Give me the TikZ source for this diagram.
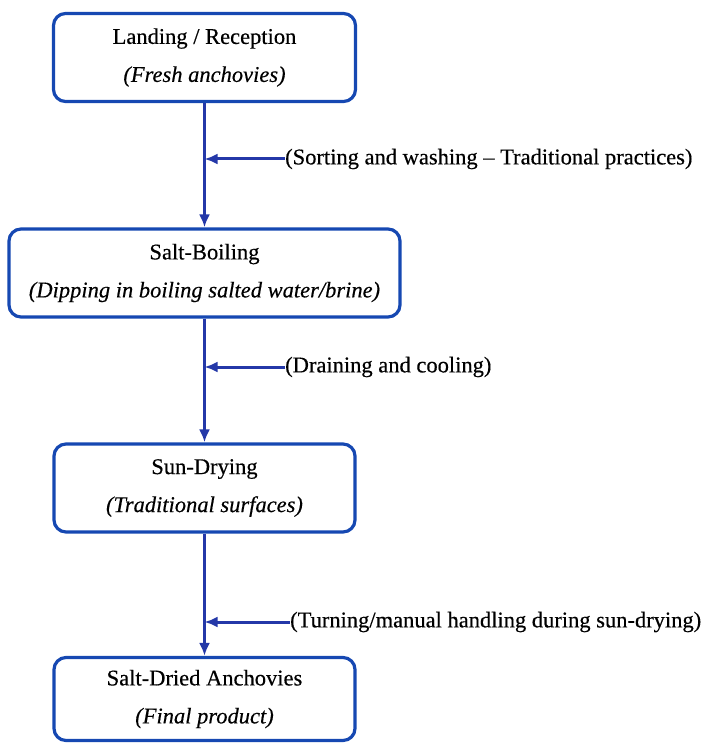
\documentclass[tikz,border=0pt]{standalone}
\usepackage{fontspec}
\setmainfont{Liberation Serif}
\usepackage{tikz}
\usetikzlibrary{arrows.meta, positioning}
\definecolor{boxblue}{RGB}{22,72,178}
\definecolor{lineblue}{RGB}{36,56,168}

\begin{document}
\begin{tikzpicture}[x=1pt, y=-1pt,
    stage/.style={draw=boxblue, line width=3.2pt, rounded corners=12pt, align=center,
        minimum height=88pt, inner sep=0pt,
        font=\fontsize{22.5}{27}\selectfont\addfontfeatures{FakeBold=0.4}},
    note/.style={anchor=west, inner sep=0pt,
        font=\fontsize{22.5}{27}\selectfont\addfontfeatures{FakeBold=0.4}},
    flow/.style={draw=lineblue, line width=3pt, -{Latex[length=13pt,width=11pt]}}]
    \useasboundingbox (0,0) rectangle (703,743);

    % Draw the process stages
    \node[stage, minimum width=302pt] (landing) at (204.5,57.5)
        {Landing / Reception\\[11pt]\textit{(Fresh anchovies)}};
    \node[stage, minimum width=391pt] (boiling) at (204.5,273)
        {Salt-Boiling\\[11pt]\textit{(Dipping in boiling salted water/brine)}};
    \node[stage, minimum width=301pt] (drying) at (204.5,488)
        {Sun-Drying\\[11pt]\textit{(Traditional surfaces)}};
    \node[stage, minimum width=301pt, minimum height=83pt] (product) at (204.5,699)
        {Salt-Dried Anchovies\\[11pt]\textit{(Final product)}};

    % Main flow between stages
    \foreach \a/\b in {landing/boiling, boiling/drying, drying/product} {
        \draw[flow] (\a) -- (\b);
    }

    % Side notes with arrows into the flow
    \node[note] (sorting) at (285,159) {(Sorting and washing -- Traditional practices)};
    \draw[flow] (sorting.west) -- (sorting.west -| landing.south);

    \node[note] (draining) at (285,367) {(Draining and cooling)};
    \draw[flow] (draining.west) -- (draining.west -| boiling.south);

    \node[note] (turning) at (290,622) {(Turning/manual handling during sun-drying)};
    \draw[flow] (turning.west) -- (turning.west -| drying.south);
\end{tikzpicture}
\end{document}
